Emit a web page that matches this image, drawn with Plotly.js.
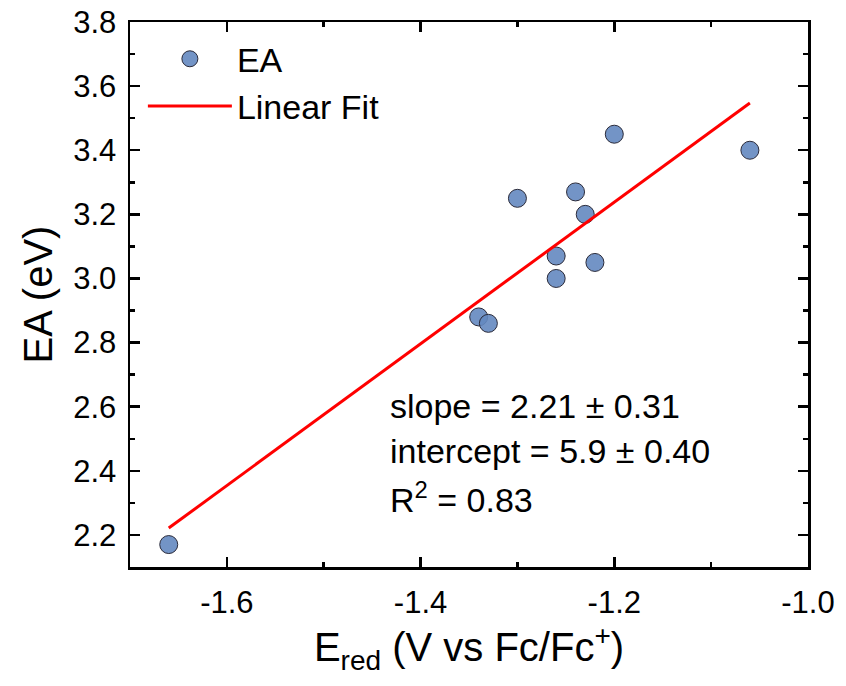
<!DOCTYPE html>
<html>
<head>
<meta charset="utf-8">
<script src="https://cdn.plot.ly/plotly-3.0.1.min.js"></script>
<style>html,body{margin:0;padding:0;background:#fff;}#chart{width:846px;height:686px;}</style>
</head>
<body>
<div id="chart"></div>
<script>
// Data
const eRed = [-1.66, -1.34, -1.33, -1.30, -1.26, -1.26, -1.24, -1.23, -1.22, -1.20, -1.06];
const eaValues = [2.17, 2.88, 2.86, 3.25, 3.07, 3.00, 3.27, 3.20, 3.05, 3.45, 3.40];
const fitSlope = 2.21;
const fitIntercept = 5.89;
const fitRange = [-1.66, -1.06];
const statsLines = ["slope = 2.21 ± 0.31", "intercept = 5.9 ± 0.40", "R<sup>2</sup> = 0.83"];
const xTickVals = [-1.6, -1.4, -1.2, -1.0];
const xTickText = ['-1.6', '-1.4', '-1.2', '-1.0'];

const fitY = fitRange.map(x => fitIntercept + fitSlope * x);
const FONT = "Liberation Sans, Arial, sans-serif";

const traces = [
  {
    x: eRed, y: eaValues, type: 'scatter', mode: 'markers', name: 'EA',
    marker: {size: 18, color: 'rgba(100,136,192,0.9)', line: {color: '#2b2b3a', width: 1}}
  },
  {
    x: fitRange, y: fitY, type: 'scatter', mode: 'lines', name: 'Linear Fit',
    line: {color: '#ff0000', width: 3}
  }
];

const statsY = [0.295, 0.213, 0.127];
const annotations = statsLines.map((t, i) => ({
  xref: 'paper', yref: 'paper', x: 0.38, y: statsY[i],
  xanchor: 'left', yanchor: 'middle', showarrow: false, text: t,
  font: {family: FONT, size: 34, color: '#000'}
}));

const axisCommon = {
  showline: true, linecolor: '#000', linewidth: 2.5, mirror: 'ticks',
  ticks: 'inside', ticklen: 10, tickwidth: 2.5, tickcolor: '#000',
  showgrid: false, zeroline: false,
  tickfont: {family: FONT, size: 31, color: '#000'},
  minor: {ticks: 'inside', ticklen: 5, tickwidth: 2.5, tickcolor: '#000', showgrid: false}
};

const layout = {
  width: 846, height: 686,
  margin: {l: 130, r: 38, t: 22, b: 119},
  paper_bgcolor: '#fff', plot_bgcolor: '#fff',
  showlegend: true,
  legend: {
    x: 0.019, y: 0.985, xanchor: 'left', yanchor: 'top',
    bgcolor: 'rgba(0,0,0,0)', borderwidth: 0,
    font: {family: FONT, size: 34, color: '#000'},
    itemwidth: 84, tracegroupgap: 0
  },
  xaxis: Object.assign({}, axisCommon, {
    range: [-1.7, -1.0], tickmode: 'array', tickvals: xTickVals, ticktext: xTickText,
    minor: Object.assign({}, axisCommon.minor, {dtick: 0.1, tick0: -1.7}),
    ticklabelstandoff: 6,
    title: {text: 'E<sub>red</sub> (V vs Fc/Fc<sup>+</sup>)', font: {family: FONT, size: 40, color: '#000'}, standoff: 14}
  }),
  yaxis: Object.assign({}, axisCommon, {
    range: [2.1, 3.8], dtick: 0.2, tick0: 2.2, tickformat: '.1f',
    minor: Object.assign({}, axisCommon.minor, {dtick: 0.1, tick0: 2.1}),
    ticklabelstandoff: 5,
    title: {text: 'EA (eV)', font: {family: FONT, size: 40, color: '#000'}, standoff: 8}
  }),
  annotations: annotations
};

Plotly.newPlot('chart', traces, layout, {displayModeBar: false, staticPlot: true});
</script>
</body>
</html>
